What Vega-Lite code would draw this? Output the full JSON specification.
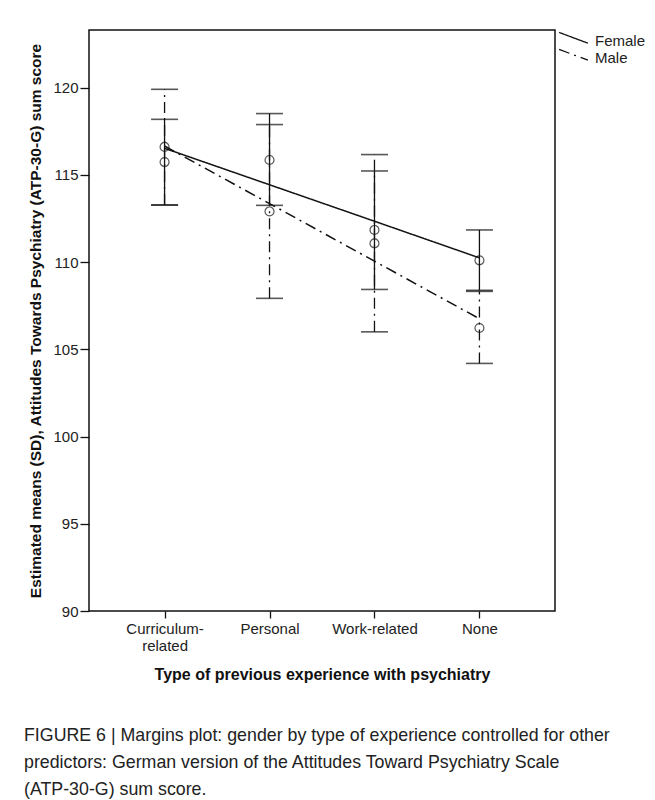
{
  "$schema": "https://vega.github.io/schema/vega-lite/v6.json",
  "autosize": {"type": "none"},
  "width": 466,
  "height": 581,
  "padding": {"left": 89, "top": 30, "right": 100, "bottom": 189},
  "background": "white",
  "config": {
    "font": "Liberation Sans",
    "view": {"stroke": "#111111", "strokeWidth": 1.5},
    "axis": {
      "grid": false,
      "domain": false,
      "tickColor": "#111111",
      "tickWidth": 1.3,
      "labelColor": "#222222",
      "titleColor": "#111111",
      "labelFontSize": 15,
      "titleFontSize": 15.5,
      "titleFontWeight": "bold"
    }
  },
  "title": {
    "text": [
      "FIGURE 6 | Margins plot: gender by type of experience controlled for other",
      "predictors: German version of the Attitudes Toward Psychiatry Scale",
      "(ATP-30-G) sum score."
    ],
    "orient": "bottom",
    "anchor": "start",
    "frame": "group",
    "dx": -65,
    "offset": 45,
    "fontSize": 17.8,
    "fontWeight": "normal",
    "lineHeight": 27,
    "color": "#222222"
  },
  "data": {
    "values": [
      {"experience": "Curriculum-related", "gender": "Female", "mean": 115.73, "lo": 113.27, "hi": 118.18, "fit": 116.52},
      {"experience": "Curriculum-related", "gender": "Male", "mean": 116.6, "lo": 113.27, "hi": 119.9, "fit": 116.65},
      {"experience": "Personal", "gender": "Female", "mean": 115.85, "lo": 113.25, "hi": 118.51, "fit": 114.43},
      {"experience": "Personal", "gender": "Male", "mean": 112.9, "lo": 107.92, "hi": 117.88, "fit": 113.35},
      {"experience": "Work-related", "gender": "Female", "mean": 111.84, "lo": 108.43, "hi": 115.22, "fit": 112.34},
      {"experience": "Work-related", "gender": "Male", "mean": 111.07, "lo": 106.0, "hi": 116.16, "fit": 110.05},
      {"experience": "None", "gender": "Female", "mean": 110.1, "lo": 108.38, "hi": 111.84, "fit": 110.24},
      {"experience": "None", "gender": "Male", "mean": 106.22, "lo": 104.19, "hi": 108.32, "fit": 106.75}
    ]
  },
  "encoding": {
    "x": {
      "field": "experience",
      "type": "ordinal",
      "sort": ["Curriculum-related", "Personal", "Work-related", "None"],
      "scale": {"type": "point", "padding": 0.72},
      "axis": {
        "title": "Type of previous experience with psychiatry",
        "titleFontSize": 16,
        "labelAngle": 0,
        "tickSize": 7,
        "labelPadding": 3,
        "labelLineHeight": 17,
        "titlePadding": 13,
        "labelExpr": "datum.label == 'Curriculum-related' ? ['Curriculum-', 'related'] : datum.label"
      }
    }
  },
  "layer": [
    {
      "mark": {"type": "rule", "color": "#111111", "strokeWidth": 1.3},
      "encoding": {
        "y": {"field": "lo", "type": "quantitative", "scale": {"domain": [90, 123.3], "nice": false, "zero": false},
          "axis": {"title": "Estimated means (SD), Attitudes Towards Psychiatry (ATP-30-G) sum score", "values": [90, 95, 100, 105, 110, 115, 120], "tickSize": 9, "labelPadding": 2, "titlePadding": 9}},
        "y2": {"field": "hi"},
        "strokeDash": {"field": "gender", "type": "nominal", "scale": {"domain": ["Female", "Male"], "range": [[1, 0], [11, 5, 2, 5]]}}
      }
    },
    {
      "mark": {"type": "tick", "color": "#111111", "size": 27, "thickness": 1.6, "orient": "horizontal"},
      "encoding": {"y": {"field": "hi", "type": "quantitative"}}
    },
    {
      "mark": {"type": "tick", "color": "#111111", "size": 27, "thickness": 1.6, "orient": "horizontal"},
      "encoding": {"y": {"field": "lo", "type": "quantitative"}}
    },
    {
      "mark": {"type": "line", "color": "#111111", "strokeWidth": 1.5},
      "encoding": {
        "y": {"field": "fit", "type": "quantitative"},
        "strokeDash": {"field": "gender", "type": "nominal",
          "legend": {
            "title": null,
            "orient": "none",
            "legendX": 477,
            "legendY": 3,
            "padding": 0,
            "symbolType": "M-2.4,-1.35L2.4,0.45",
            "symbolSize": 144,
            "symbolStrokeColor": "#111111",
            "symbolFillColor": "transparent",
            "symbolStrokeWidth": 1.3,
            "labelFontSize": 15,
            "labelColor": "#222222",
            "labelOffset": 14,
            "rowPadding": -3
          }
        }
      }
    },
    {
      "mark": {"type": "point", "shape": "circle", "filled": false, "color": "#111111", "size": 80, "strokeWidth": 1.2},
      "encoding": {"y": {"field": "mean", "type": "quantitative"}}
    }
  ]
}
